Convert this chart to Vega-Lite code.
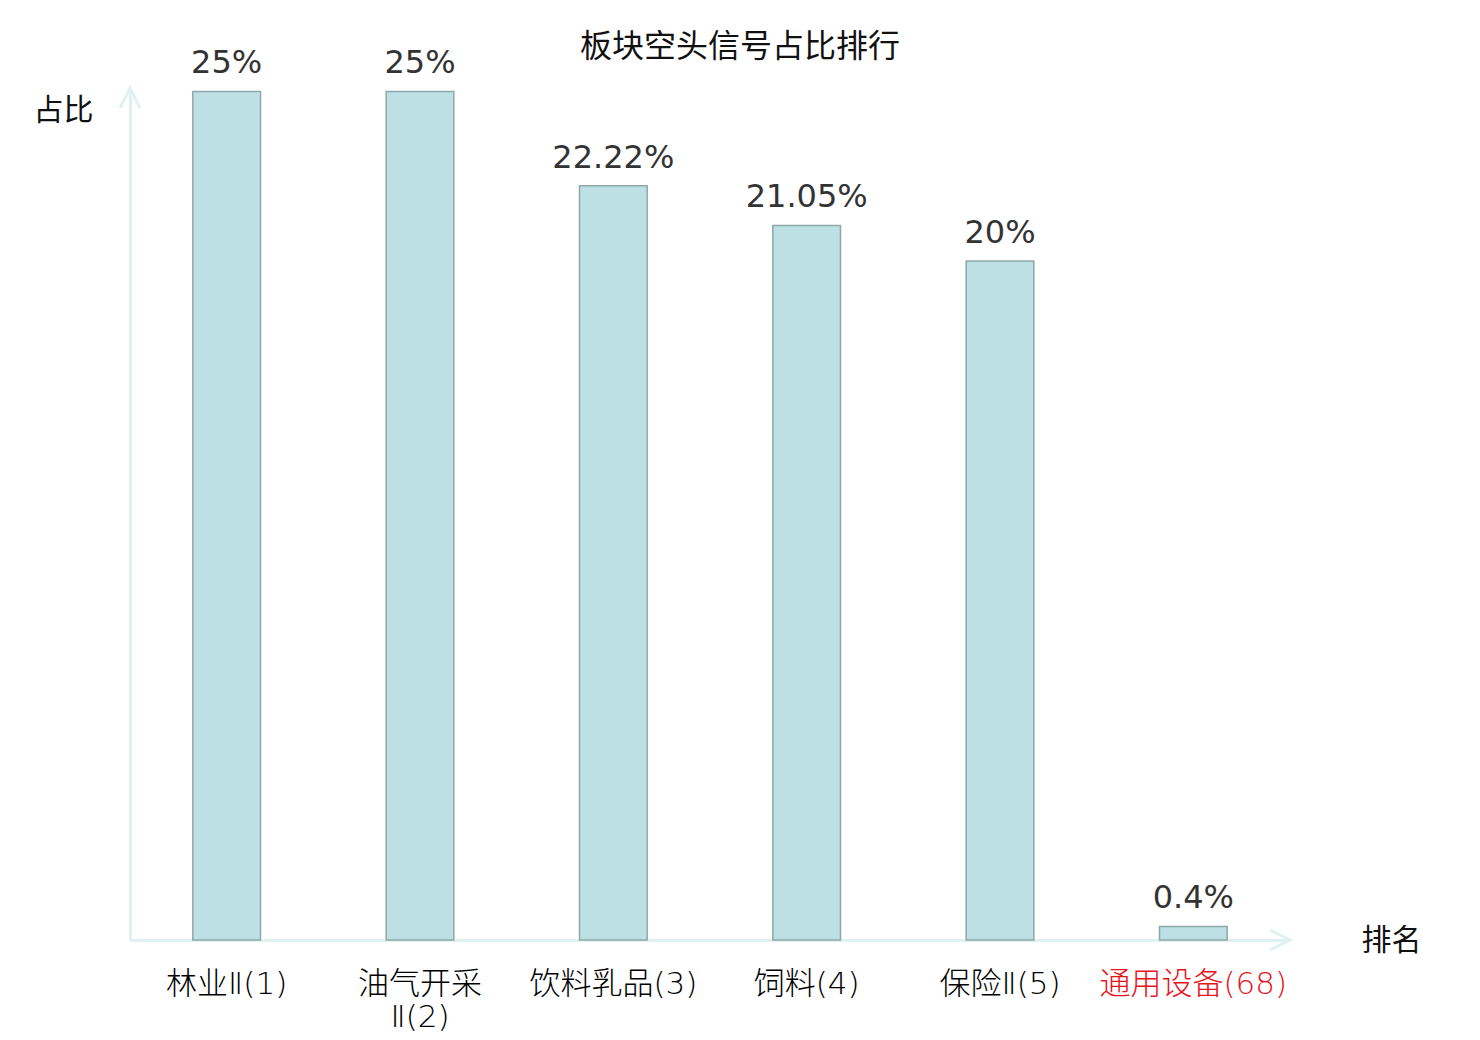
{
  "$schema": "https://vega.github.io/schema/vega-lite/v6.json",
  "autosize": "none",
  "width": 1160,
  "height": 852,
  "padding": {"left": 130, "top": 88, "right": 190, "bottom": 100},
  "background": "white",
  "title": {
    "text": "板块空头信号占比排行",
    "fontSize": 32,
    "fontWeight": "normal",
    "color": "#111111",
    "anchor": "middle",
    "dx": 30,
    "offset": -17
  },
  "datasets": {
    "bars": [
      {"name": "林业Ⅱ(1)", "value": 25, "label": "25%"},
      {"name": "油气开采Ⅱ(2)", "value": 25, "label": "25%"},
      {"name": "饮料乳品(3)", "value": 22.22, "label": "22.22%"},
      {"name": "饲料(4)", "value": 21.05, "label": "21.05%"},
      {"name": "保险Ⅱ(5)", "value": 20, "label": "20%"},
      {"name": "通用设备(68)", "value": 0.4, "label": "0.4%"}
    ],
    "arrows": [
      {"pos": 0, "value": 25.1, "dir": "up"},
      {"pos": 1, "value": 0, "dir": "right"}
    ]
  },
  "layer": [
    {
      "data": {"name": "bars"},
      "mark": {"type": "bar", "fill": "#bce0e3", "stroke": "#8ea8a9", "strokeWidth": 1.5},
      "encoding": {
        "x": {
          "field": "name",
          "type": "nominal",
          "sort": null,
          "scale": {"paddingInner": 0.65, "paddingOuter": 0.325},
          "axis": {
            "title": "排名",
            "titleAngle": 0,
            "titleX": 1261,
            "titleY": 0,
            "titleAlign": "center",
            "titleBaseline": "middle",
            "titleFontSize": 30,
            "titleFontWeight": "normal",
            "titleColor": "#111111",
            "domainColor": "#dff2ef",
            "domainWidth": 3,
            "ticks": false,
            "labelAngle": 0,
            "labelFontSize": 31,
            "labelFontWeight": 300,
            "labelPadding": 29,
            "labelBaseline": "top",
            "labelLineHeight": 33,
            "labelOverlap": false,
            "labelLimit": 400,
            "labelExpr": "datum.value == '油气开采Ⅱ(2)' ? ['油气开采', 'Ⅱ(2)'] : datum.value",
            "labelColor": {
              "condition": {"test": "datum.value == '通用设备(68)'", "value": "#e8141c"},
              "value": "#000000"
            }
          }
        },
        "y": {
          "field": "value",
          "type": "quantitative",
          "title": "占比",
          "scale": {"domain": [0, 25.1], "nice": false},
          "axis": {
            "title": "占比",
            "titleAngle": 0,
            "titleX": -67,
            "titleY": 22,
            "titleAlign": "center",
            "titleBaseline": "middle",
            "titleFontSize": 30,
            "titleFontWeight": "normal",
            "titleColor": "#111111",
            "domainColor": "#dff2ef",
            "domainWidth": 3,
            "ticks": false,
            "labels": false,
            "grid": false
          }
        }
      }
    },
    {
      "data": {"name": "bars"},
      "mark": {"type": "text", "fontSize": 32, "color": "#333333", "baseline": "bottom", "dy": -11},
      "encoding": {
        "x": {"field": "name", "type": "nominal", "sort": null, "scale": {"paddingInner": 0.65, "paddingOuter": 0.325}, "axis": null},
        "y": {"field": "value", "type": "quantitative", "title": "占比"},
        "text": {"field": "label"}
      }
    },
    {
      "data": {"name": "arrows"},
      "mark": {"type": "point", "filled": false, "stroke": "#dff2ef", "strokeWidth": 3, "size": 1600, "opacity": 1},
      "encoding": {
        "x": {"field": "pos", "type": "quantitative", "scale": {"domain": [0, 1], "nice": false, "zero": false}, "axis": null},
        "y": {"field": "value", "type": "quantitative", "title": "占比"},
        "shape": {
          "field": "dir",
          "type": "nominal",
          "scale": {"domain": ["up", "right"], "range": ["M-0.5,1L0,0L0.5,1", "M-1,-0.5L0,0L-1,0.5"]},
          "legend": null
        }
      }
    }
  ],
  "resolve": {"scale": {"x": "independent"}},
  "config": {
    "font": "DejaVu Sans, Noto Sans CJK SC",
    "view": {"stroke": null}
  }
}
